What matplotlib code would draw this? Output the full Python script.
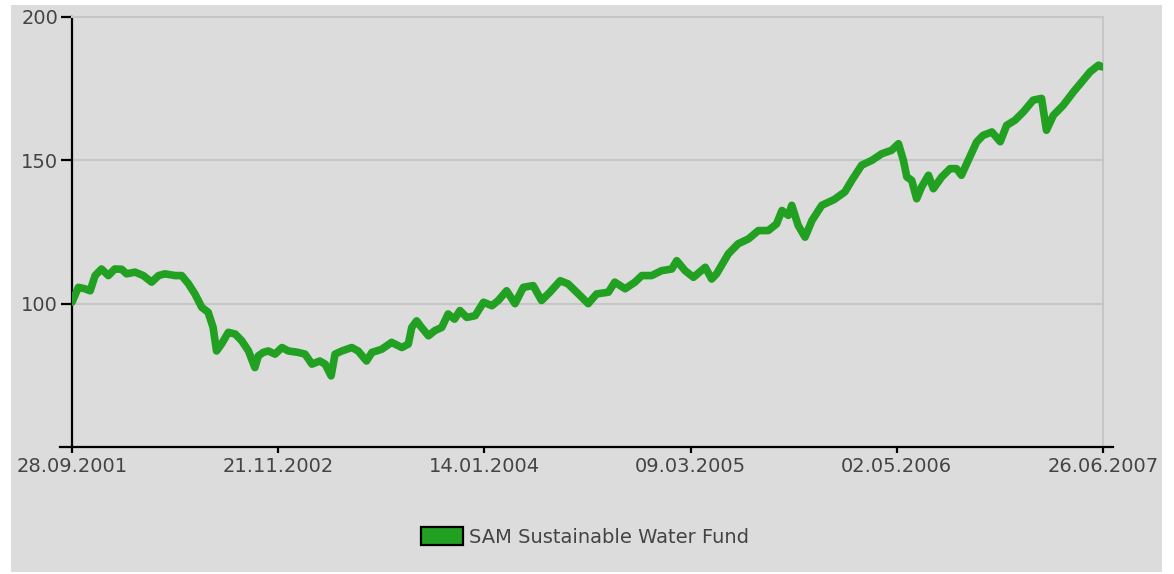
import numpy as np
import pandas as pd
import matplotlib
matplotlib.use('Agg')
import matplotlib.pyplot as plt
import matplotlib.dates as mdates
from matplotlib.patches import Patch, Rectangle
from matplotlib.lines import Line2D

# Series: days after 28.09.2001 and fund value
START = '2001-09-28'
END = '2007-06-26'
DAYS = [0, 13, 26, 37, 47, 60, 74, 87, 101, 111, 128, 145, 162, 176, 189,
        210, 223, 237, 250, 264, 277, 287, 294, 304, 318, 332, 345, 359,
        372, 379, 389, 399, 413, 427, 440, 460, 474, 488, 504, 515, 527,
        535, 549, 569, 582, 599, 610, 630, 650, 671, 684, 691, 701, 711,
        725, 738, 752, 765, 778, 789, 803, 820, 837, 854, 867, 884, 901,
        918, 938, 955, 972, 993, 1009, 1030, 1050, 1067, 1091, 1104, 1125,
        1145, 1159, 1179, 1199, 1220, 1230, 1247, 1264, 1288, 1301, 1311,
        1335, 1355, 1376, 1396, 1416, 1433, 1444, 1457, 1464, 1477, 1491,
        1505, 1525, 1550, 1572, 1586, 1606, 1627, 1647, 1667, 1681, 1691,
        1698, 1708, 1718, 1728, 1742, 1752, 1769, 1786, 1799, 1809, 1823,
        1840, 1853, 1871, 1888, 1901, 1918, 1935, 1955, 1972, 1982, 1996,
        2016, 2037, 2057, 2071, 2088, 2095]
VALUES = [100.5, 105.7, 105.2, 104.5, 109.8, 112.1, 109.8, 112.1, 112.0,
          110.4, 111.0, 109.8, 107.5, 109.8, 110.4, 109.8, 109.8, 106.9,
          103.4, 98.7, 97.0, 91.7, 83.5, 85.9, 90.0, 89.4, 87.1, 83.5,
          77.7, 81.8, 83.0, 83.5, 82.4, 84.7, 83.5, 83.0, 82.4, 78.9,
          80.0, 78.9, 74.8, 82.4, 83.5, 84.7, 83.5, 80.0, 83.0, 84.1,
          86.5, 84.7, 85.9, 91.7, 94.0, 91.7, 88.8, 90.6, 91.7, 96.4,
          94.6, 97.6, 95.2, 95.8, 100.5, 99.3, 101.1, 104.5, 100.0, 105.7,
          106.3, 101.1, 104.0, 108.0, 106.9, 103.4, 100.0, 103.4, 104.0,
          107.5, 105.2, 107.5, 109.8, 109.8, 111.5, 112.1, 115.0, 111.5,
          109.2, 112.7, 108.6, 110.4, 117.4, 120.9, 122.6, 125.5, 125.5,
          127.8, 132.5, 130.8, 134.3, 127.3, 123.2, 129.0, 134.3, 136.3,
          139.0, 143.0, 148.3, 150.0, 152.3, 153.5, 155.8, 150.0, 144.2,
          143.0, 136.6, 140.7, 144.8, 140.1, 144.2, 147.1, 147.1, 144.8,
          150.0, 156.4, 158.7, 159.9, 156.5, 162.2, 164.0, 166.9, 171.0,
          171.6, 160.5, 165.7, 169.2, 173.9, 178.0, 180.9, 183.2, 182.6]
TICK_DATES = ['2001-09-28', '2002-11-21', '2004-01-14', '2005-03-09',
              '2006-05-02', '2007-06-26']
Y_TICKS = [100, 150, 200]
SERIES_NAME = 'SAM Sustainable Water Fund'

BG = '#dcdcdc'
GREEN = '#22a022'
GRID = '#c6c6c6'
TXT = '#444444'

dates = pd.Timestamp(START) + pd.to_timedelta(DAYS, unit='D')

fig = plt.figure(figsize=(11.74, 5.74), dpi=100, facecolor='white')
fig.patches.append(Rectangle((11 / 1174, 2 / 574), 1151 / 1174, 567 / 574,
                             transform=fig.transFigure, facecolor=BG,
                             edgecolor='none', zorder=-10))
ax = fig.add_axes([72 / 1174, 1 - 447 / 574, 1031 / 1174, 430 / 574])
ax.set_facecolor(BG)

ax.plot(dates, VALUES, color=GREEN, lw=5.5, solid_joinstyle='round',
        solid_capstyle='round', zorder=3)

ax.set_xlim(pd.Timestamp(START), pd.Timestamp(END))
ax.set_ylim(50, 200)
ax.set_yticks(Y_TICKS)
ax.set_xticks(pd.to_datetime(TICK_DATES))
ax.xaxis.set_major_formatter(mdates.DateFormatter('%d.%m.%Y'))

ax.yaxis.grid(True, color=GRID, lw=1.5)
ax.set_axisbelow(True)

for side in ['top', 'right']:
    ax.spines[side].set_color(GRID)
    ax.spines[side].set_linewidth(1.5)
ax.spines['left'].set_color('black')
ax.spines['left'].set_linewidth(1.6)
ax.spines['bottom'].set_visible(False)
# bottom axis line runs a little past both ends
ax.add_line(Line2D([-12 / 1031, 1 + 10 / 1031], [0, 0], transform=ax.transAxes,
                   color='black', lw=1.6, clip_on=False, zorder=4))

ax.tick_params(axis='y', direction='out', length=8, width=1.6, color='black',
               pad=2, labelsize=14, labelcolor=TXT)
ax.tick_params(axis='x', direction='out', length=4, width=1.6, color='black',
               pad=3, labelsize=14, labelcolor=TXT)

leg = fig.legend(handles=[Patch(facecolor=GREEN, edgecolor='black', lw=1.6,
                                label=SERIES_NAME)],
                 loc='center', bbox_to_anchor=(585 / 1174, 1 - 537 / 574),
                 frameon=False, fontsize=14, handlelength=2.2,
                 handleheight=1.0, handletextpad=0.3)
for t in leg.get_texts():
    t.set_color(TXT)

fig.savefig('out.png', dpi=100, facecolor='white')
